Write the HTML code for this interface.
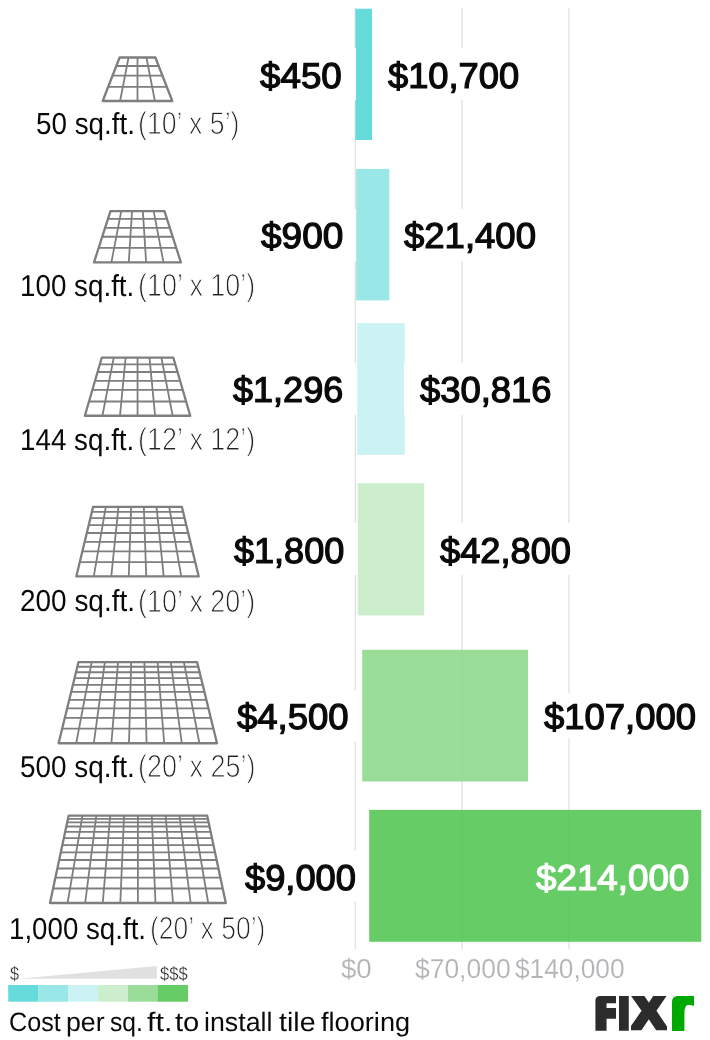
<!DOCTYPE html>
<html lang="en"><head><meta charset="utf-8"><title>Cost per sq. ft. to install tile flooring</title>
<style>
html,body{margin:0;padding:0;background:#fff}body{width:710px;height:1040px;position:relative;overflow:hidden;font-family:'Liberation Sans', sans-serif}
.a{position:absolute}.t{position:absolute;white-space:nowrap;line-height:1;transform-origin:0 0;text-rendering:geometricPrecision}
.m{position:absolute;background:#fff}
.lb{position:absolute;overflow:hidden;top:996.2px;height:34.9px}.lb span{position:absolute;line-height:1;font-weight:700;transform-origin:0 0;text-rendering:geometricPrecision;color:#2c2c2c}
</style></head><body>
<div class="a" style="left:354px;top:8px;width:1px;height:941px;background:#f4f5f4"></div>
<div class="a" style="left:355px;top:8px;width:1px;height:941px;background:#e0e2e1"></div>
<div class="a" style="left:461px;top:8px;width:2px;height:941px;background:#eaebea"></div>
<div class="a" style="left:568px;top:8px;width:2px;height:941px;background:#eaebea"></div>
<svg class="a" style="left:0;top:0" width="710" height="1040" viewBox="0 0 710 1040">
<rect x="355.4" y="8.7" width="16.60" height="131.30" fill="#66dbdb"/>
<rect x="356.2" y="168.9" width="33.10" height="131.50" fill="#99e7e7"/>
<rect x="357.2" y="323.1" width="47.70" height="131.70" fill="#ccf3f3"/>
<rect x="357.7" y="483.2" width="66.50" height="132.20" fill="#cceecc"/>
<rect x="362.2" y="649.8" width="165.80" height="131.70" fill="#99dd99"/>
<rect x="369.2" y="809.9" width="332.10" height="131.90" fill="#66cc66"/>
</svg>
<div class="a" style="left:461px;top:649.8px;width:2px;height:131.70px;background:rgba(0,0,0,0.009)"></div>
<div class="a" style="left:461px;top:809.9px;width:2px;height:131.90px;background:rgba(0,0,0,0.009)"></div>
<div class="a" style="left:568px;top:809.9px;width:2px;height:131.90px;background:rgba(0,0,0,0.009)"></div>
<div class="m" style="left:254px;top:48.3px;width:102px;height:52px"></div>
<div class="m" style="left:372px;top:48.3px;width:152px;height:52px"></div>
<div class="m" style="left:256px;top:208.6px;width:100px;height:52px"></div>
<div class="m" style="left:390px;top:208.6px;width:152px;height:52px"></div>
<div class="m" style="left:227px;top:363.0px;width:130px;height:52px"></div>
<div class="m" style="left:404px;top:363.0px;width:152px;height:52px"></div>
<div class="m" style="left:228px;top:523.3px;width:130px;height:52px"></div>
<div class="m" style="left:425px;top:523.3px;width:151px;height:52px"></div>
<div class="m" style="left:232px;top:689.6px;width:130px;height:52px"></div>
<div class="m" style="left:528px;top:692.7px;width:173px;height:45.8px"></div>
<div class="m" style="left:239px;top:849.8px;width:130px;height:52px"></div>
<svg class="a" style="left:0;top:0" width="710" height="1040" viewBox="0 0 710 1040">
<path d="M116.30 66.00H158.70M112.57 75.60H162.43M108.22 86.80H166.78M128.55 57.50L120.10 101.00M137.50 57.50L137.50 101.00M146.45 57.50L154.90 101.00" fill="none" stroke="#7e7e7e" stroke-width="1.8"/>
<path d="M119.60 57.50H155.40L172.30 101.00H102.70Z" fill="none" stroke="#7e7e7e" stroke-width="2.3" stroke-linejoin="round"/>
<path d="M107.92 218.95H166.98M105.09 227.80H169.81M102.22 236.75H172.67M98.69 247.80H176.21M121.25 211.05L111.38 262.45M132.05 211.05L128.76 262.45M142.85 211.05L146.14 262.45M153.65 211.05L163.52 262.45" fill="none" stroke="#7e7e7e" stroke-width="1.8"/>
<path d="M110.45 211.05H164.45L180.90 262.45H94.00Z" fill="none" stroke="#7e7e7e" stroke-width="2.3" stroke-linejoin="round"/>
<path d="M99.81 364.40H175.29M97.59 372.00H177.51M95.03 380.80H180.07M92.38 389.90H182.72M89.00 401.50H186.10M113.72 357.55L102.42 415.75M125.63 357.55L119.98 415.75M137.55 357.55L137.55 415.75M149.47 357.55L155.12 415.75M161.38 357.55L172.68 415.75" fill="none" stroke="#7e7e7e" stroke-width="1.8"/>
<path d="M101.80 357.55H173.30L190.25 415.75H84.85Z" fill="none" stroke="#7e7e7e" stroke-width="2.3" stroke-linejoin="round"/>
<path d="M91.92 511.80H183.08M90.37 518.20H184.63M88.70 525.10H186.30M86.79 533.00H188.21M84.64 541.90H190.36M82.37 551.30H192.63M79.76 562.10H195.24M105.79 506.90L93.79 576.40M118.47 506.90L111.27 576.40M131.16 506.90L128.76 576.40M143.84 506.90L146.24 576.40M156.53 506.90L163.73 576.40M169.21 506.90L181.21 576.40" fill="none" stroke="#7e7e7e" stroke-width="1.8"/>
<path d="M93.10 506.90H181.90L198.70 576.40H76.30Z" fill="none" stroke="#7e7e7e" stroke-width="2.3" stroke-linejoin="round"/>
<path d="M77.35 666.75H198.25M76.00 672.25H199.60M74.55 678.15H201.05M72.89 684.95H202.71M71.20 691.85H204.40M69.24 699.85H206.36M67.15 708.35H208.45M64.82 717.85H210.78M62.18 728.65H213.42M91.68 662.05L76.20 743.25M104.86 662.05L93.80 743.25M118.03 662.05L111.40 743.25M131.21 662.05L129.00 743.25M144.39 662.05L146.60 743.25M157.57 662.05L164.20 743.25M170.74 662.05L181.80 743.25M183.92 662.05L199.40 743.25" fill="none" stroke="#7e7e7e" stroke-width="1.8"/>
<path d="M78.50 662.05H197.10L217.00 743.25H58.60Z" fill="none" stroke="#7e7e7e" stroke-width="2.3" stroke-linejoin="round"/>
<path d="M67.94 818.80H207.86M67.19 822.30H208.61M66.30 826.50H209.50M65.15 831.90H210.65M63.81 838.20H211.99M62.31 845.20H213.49M60.80 852.30H215.00M59.16 860.00H216.64M57.35 868.50H218.45M55.41 877.60H220.39M53.09 888.50H222.71M82.46 815.70L67.58 903.00M96.32 815.70L85.16 903.00M110.18 815.70L102.74 903.00M124.04 815.70L120.32 903.00M137.90 815.70L137.90 903.00M151.76 815.70L155.48 903.00M165.62 815.70L173.06 903.00M179.48 815.70L190.64 903.00M193.34 815.70L208.22 903.00" fill="none" stroke="#7e7e7e" stroke-width="1.8"/>
<path d="M68.60 815.70H207.20L225.80 903.00H50.00Z" fill="none" stroke="#7e7e7e" stroke-width="2.3" stroke-linejoin="round"/>
</svg>
<svg class="a" style="left:0;top:960px" width="200" height="50" viewBox="0 960 200 50">
<path d="M19 978.7L156.8 965.9V978.8Z" fill="#e0e0e0"/>
<rect x="8.2" y="985" width="30.30" height="16.7" fill="#66dbdb"/>
<rect x="38.2" y="985" width="30.30" height="16.7" fill="#99e7e7"/>
<rect x="68.2" y="985" width="30.20" height="16.7" fill="#ccf3f3"/>
<rect x="98.1" y="985" width="30.20" height="16.7" fill="#cceecc"/>
<rect x="128.0" y="985" width="30.20" height="16.7" fill="#99dd99"/>
<rect x="157.9" y="985" width="30.10" height="16.7" fill="#66cc66"/>
</svg>
<div class="rows">
<div class="row">
<div class="size"><span class="t" style="left:36.39px;top:109.7px;font-size:30.2px;font-weight:400;color:#0a0a0a;transform:scale(0.9212,1.0079);">50 sq.ft.</span> <span class="t" style="left:137.97px;top:108.26px;font-size:31.7px;font-weight:400;color:#222;transform:scale(0.8432,1.0008);-webkit-text-stroke:1.0px #fff;">(10’ x 5’)</span></div>
<div class="low"><span class="t" style="left:259.6px;top:59.31px;font-size:35.9px;font-weight:400;color:#0a0a0a;transform:scale(1.0248,0.9976);-webkit-text-stroke:1.25px currentColor;">$450</span></div>
<div class="high"><span class="t" style="left:387.8px;top:59.31px;font-size:35.9px;font-weight:400;color:#0a0a0a;transform:scale(1.0104,0.9976);-webkit-text-stroke:1.25px currentColor;">$10,700</span></div>
</div>
<div class="row">
<div class="size"><span class="t" style="left:20.26px;top:271.9px;font-size:30.2px;font-weight:400;color:#0a0a0a;transform:scale(0.9204,1.004);">100 sq.ft.</span> <span class="t" style="left:138.34px;top:270.46px;font-size:31.7px;font-weight:400;color:#222;transform:scale(0.8503,1.0071);-webkit-text-stroke:1.0px #fff;">(10’ x 10’)</span></div>
<div class="low"><span class="t" style="left:260.81px;top:219.31px;font-size:35.9px;font-weight:400;color:#0a0a0a;transform:scale(1.0306,0.9976);-webkit-text-stroke:1.25px currentColor;">$900</span></div>
<div class="high"><span class="t" style="left:404.3px;top:219.31px;font-size:35.9px;font-weight:400;color:#0a0a0a;transform:scale(1.0173,0.9976);-webkit-text-stroke:1.25px currentColor;">$21,400</span></div>
</div>
<div class="row">
<div class="size"><span class="t" style="left:20.26px;top:425.9px;font-size:30.2px;font-weight:400;color:#0a0a0a;transform:scale(0.9204,1.004);">144 sq.ft.</span> <span class="t" style="left:138.34px;top:424.46px;font-size:31.7px;font-weight:400;color:#222;transform:scale(0.8503,1.0071);-webkit-text-stroke:1.0px #fff;">(12’ x 12’)</span></div>
<div class="low"><span class="t" style="left:232.6px;top:373.31px;font-size:35.9px;font-weight:400;color:#0a0a0a;transform:scale(1.0041,0.9976);-webkit-text-stroke:1.25px currentColor;">$1,296</span></div>
<div class="high"><span class="t" style="left:419.8px;top:373.31px;font-size:35.9px;font-weight:400;color:#0a0a0a;transform:scale(1.0145,0.9976);-webkit-text-stroke:1.25px currentColor;">$30,816</span></div>
</div>
<div class="row">
<div class="size"><span class="t" style="left:19.58px;top:587.0px;font-size:30.2px;font-weight:400;color:#0a0a0a;transform:scale(0.9258,1.0079);">200 sq.ft.</span> <span class="t" style="left:138.36px;top:585.56px;font-size:31.7px;font-weight:400;color:#222;transform:scale(0.8503,1.0008);-webkit-text-stroke:1.0px #fff;">(10’ x 20’)</span></div>
<div class="low"><span class="t" style="left:233.7px;top:534.31px;font-size:35.9px;font-weight:400;color:#0a0a0a;transform:scale(1.0046,0.9976);-webkit-text-stroke:1.25px currentColor;">$1,800</span></div>
<div class="high"><span class="t" style="left:439.8px;top:534.31px;font-size:35.9px;font-weight:400;color:#0a0a0a;transform:scale(1.01,0.9976);-webkit-text-stroke:1.25px currentColor;">$42,800</span></div>
</div>
<div class="row">
<div class="size"><span class="t" style="left:19.79px;top:752.6px;font-size:30.2px;font-weight:400;color:#0a0a0a;transform:scale(0.9248,1.0003);">500 sq.ft.</span> <span class="t" style="left:138.34px;top:751.16px;font-size:31.7px;font-weight:400;color:#222;transform:scale(0.8515,1.0062);-webkit-text-stroke:1.0px #fff;">(20’ x 25’)</span></div>
<div class="low"><span class="t" style="left:237.4px;top:700.41px;font-size:35.9px;font-weight:400;color:#0a0a0a;transform:scale(1.0168,0.9976);-webkit-text-stroke:1.25px currentColor;">$4,500</span></div>
<div class="high"><span class="t" style="left:544.1px;top:700.41px;font-size:35.9px;font-weight:400;color:#0a0a0a;transform:scale(1.0151,0.9976);-webkit-text-stroke:1.25px currentColor;">$107,000</span></div>
</div>
<div class="row">
<div class="size"><span class="t" style="left:9.37px;top:914.9px;font-size:30.2px;font-weight:400;color:#0a0a0a;transform:scale(0.9174,1.004);">1,000 sq.ft.</span> <span class="t" style="left:150.38px;top:913.46px;font-size:31.7px;font-weight:400;color:#222;transform:scale(0.8362,1.0071);-webkit-text-stroke:1.0px #fff;">(20’ x 50’)</span></div>
<div class="low"><span class="t" style="left:244.6px;top:861.41px;font-size:35.9px;font-weight:400;color:#0a0a0a;transform:scale(1.0107,0.9976);-webkit-text-stroke:1.25px currentColor;">$9,000</span></div>
<div class="high"><span class="t" style="left:536.1px;top:861.41px;font-size:35.9px;font-weight:400;color:#ffffff;transform:scale(1.024,0.9976);-webkit-text-stroke:1.25px currentColor;">$214,000</span></div>
</div>
</div>
<div class="axis"><span class="t" style="left:341.21px;top:954.7px;font-size:27.2px;font-weight:400;color:#b2b4b8;transform:scale(1.0154,1.0106);-webkit-text-stroke:0.15px #fff;">$0</span> <span class="t" style="left:414.52px;top:954.7px;font-size:27.2px;font-weight:400;color:#b2b4b8;transform:scale(0.9726,1.0106);-webkit-text-stroke:0.15px #fff;">$70,000</span> <span class="t" style="left:515.04px;top:954.7px;font-size:27.2px;font-weight:400;color:#b2b4b8;transform:scale(0.9657,1.0106);-webkit-text-stroke:0.15px #fff;">$140,000</span></div>
<div class="legend"><span class="t" style="left:9.92px;top:964.76px;font-size:18.6px;font-weight:400;color:#222;transform:scale(0.8767,1.0192);-webkit-text-stroke:0.3px #fff;">$</span> <span class="t" style="left:160.12px;top:964.87px;font-size:18.6px;font-weight:400;color:#222;transform:scale(0.8909,1.013);-webkit-text-stroke:0.3px #fff;">$$$</span></div>
<div class="caption"><span class="t" style="left:8.55px;top:1007.6px;font-size:26.0px;font-weight:400;color:#0a0a0a;transform:scale(0.9679,1.0258);">Cost</span> <span class="t" style="left:65.85px;top:1007.6px;font-size:26.0px;font-weight:400;color:#0a0a0a;transform:scale(1.0284,1.0258);">per</span> <span class="t" style="left:109.75px;top:1007.6px;font-size:26.0px;font-weight:400;color:#0a0a0a;transform:scale(0.9481,1.0258);">sq.</span> <span class="t" style="left:146.86px;top:1007.6px;font-size:26.0px;font-weight:400;color:#0a0a0a;transform:scale(1.1731,1.0258);">ft.</span> <span class="t" style="left:175.45px;top:1007.6px;font-size:26.0px;font-weight:400;color:#0a0a0a;transform:scale(1.1223,1.0258);">to</span> <span class="t" style="left:204.12px;top:1007.6px;font-size:26.0px;font-weight:400;color:#0a0a0a;transform:scale(1.0288,1.0258);">install</span> <span class="t" style="left:278.86px;top:1007.6px;font-size:26.0px;font-weight:400;color:#0a0a0a;transform:scale(1.0993,1.0258);">tile</span> <span class="t" style="left:320.91px;top:1007.6px;font-size:26.0px;font-weight:400;color:#0a0a0a;transform:scale(1.045,1.0258);">flooring</span></div>
<div class="logo" aria-label="Fixr">
<div class="lb" style="left:595px;width:21px;border-top-left-radius:5px"><span style="left:-0.4px;top:-7.4px;font-size:44px;-webkit-text-stroke:5px #2c2c2c;transform:scale(0.98,1.08)">F</span></div>
<div class="lb" style="left:619.1px;width:11.2px"><span style="left:-2.2px;top:-7.4px;font-size:44px;-webkit-text-stroke:5px #2c2c2c;transform:scale(1,1.08)">I</span></div>
<div class="lb" style="left:630.6px;width:36.4px"><span style="left:1.3px;top:-7.4px;font-size:44px;-webkit-text-stroke:4.2px #2c2c2c;transform:scale(1.145,1.08)">X</span></div>
<div class="lb" style="left:671.6px;width:22.2px;border-top-left-radius:5.5px"><span style="left:-1.5px;top:-24.2px;font-size:60px;color:#00a900;-webkit-text-stroke:4.5px #00a900;transform:scale(0.98,1.22)">r</span></div>
</div>
</body></html>
